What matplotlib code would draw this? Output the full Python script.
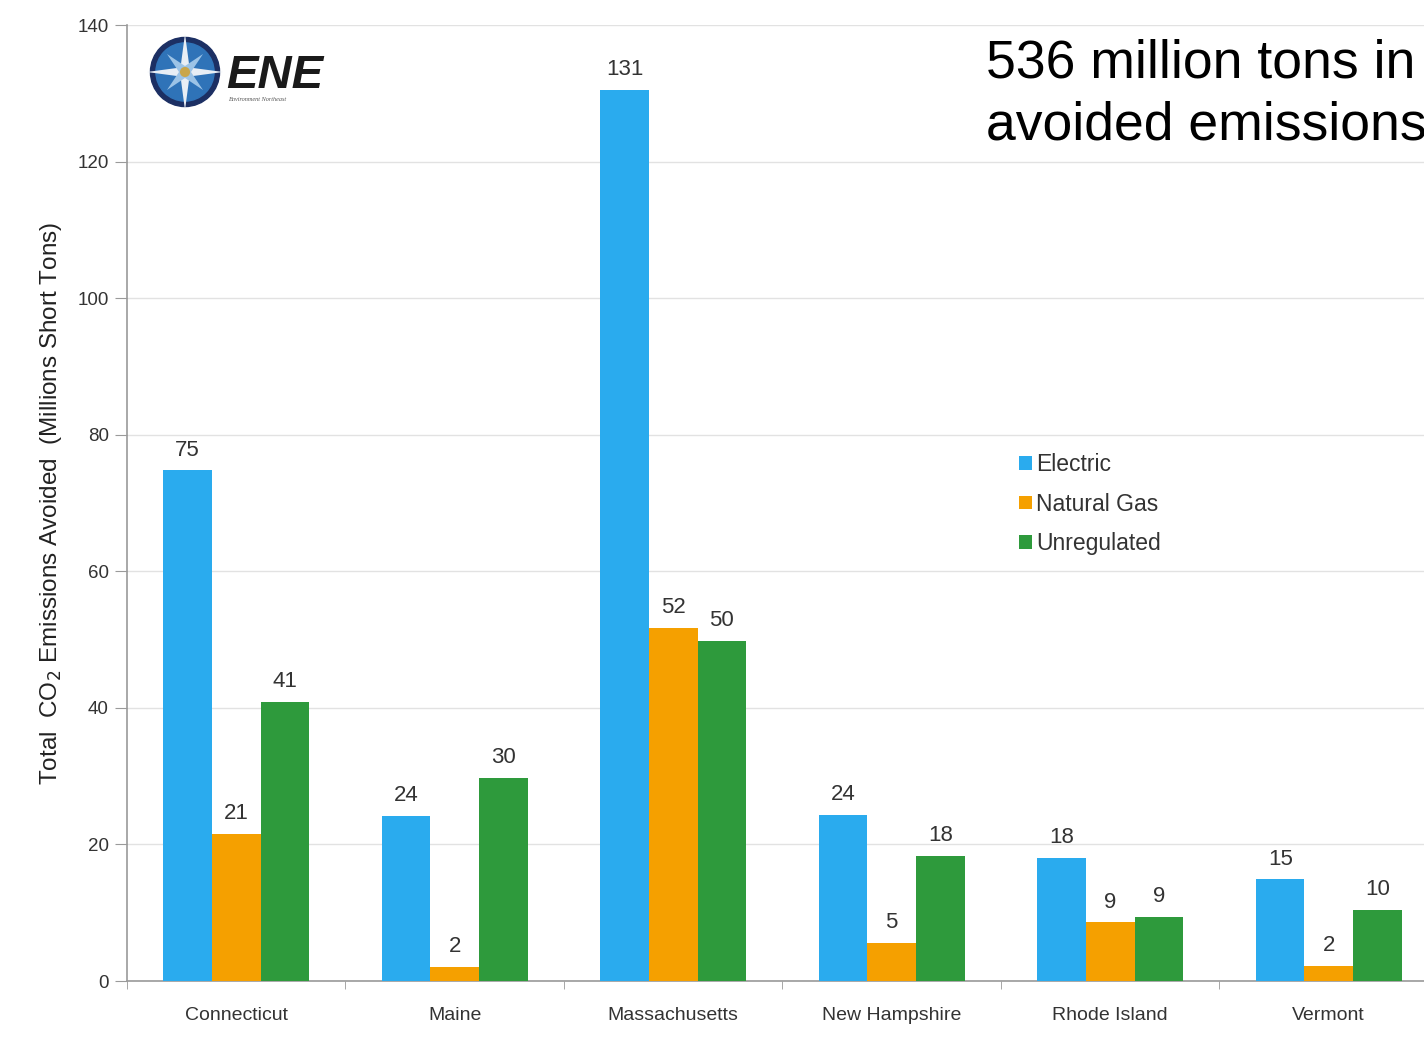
import numpy as np
import matplotlib
matplotlib.use("Agg")
import matplotlib.pyplot as plt
from matplotlib.patches import Circle, Polygon

plt.rcParams["font.family"] = ["Liberation Sans", "DejaVu Sans"]

states = ["Connecticut", "Maine", "Massachusetts", "New Hampshire", "Rhode Island", "Vermont"]
electric = [74.8, 24.2, 130.5, 24.3, 18.0, 14.9]
natural_gas = [21.5, 2.1, 51.7, 5.6, 8.6, 2.2]
unregulated = [40.9, 29.7, 49.8, 18.3, 9.4, 10.4]
electric_labels = ["75", "24", "131", "24", "18", "15"]
gas_labels = ["21", "2", "52", "5", "9", "2"]
unreg_labels = ["41", "30", "50", "18", "9", "10"]
yticks = [0, 20, 40, 60, 80, 100, 120, 140]

W, H = 1424, 1041
fig = plt.figure(figsize=(W / 100, H / 100), dpi=100)
ax = fig.add_axes([127 / W, 1 - 981 / H, 1311 / W, 956 / H])

x = np.arange(len(states))
bw = 0.222
colors = ["#2AABEE", "#F5A000", "#2E9A3C"]
series = [(electric, electric_labels, "Electric"),
          (natural_gas, gas_labels, "Natural Gas"),
          (unregulated, unreg_labels, "Unregulated")]
for i, (vals, labs, name) in enumerate(series):
    bars = ax.bar(x + (i - 1) * bw, vals, bw, color=colors[i], label=name, zorder=3)
    ax.bar_label(bars, labels=labs, padding=7, fontsize=16, color="#333333")

ax.set_xlim(-0.5, 5.5)
ax.set_ylim(0, 140)
ax.set_yticks(yticks)
ax.tick_params(axis="y", labelsize=13.5, colors="#333333", length=9, width=0.8, pad=4)
ax.set_xticks(x)
ax.set_xticklabels(states, fontsize=14, color="#333333")
ax.tick_params(axis="x", length=0, pad=19)
ax.set_xticks(np.arange(-0.5, 6, 1), minor=True)
ax.tick_params(axis="x", which="minor", length=6, color="#999999", direction="out")
ax.grid(axis="y", color="#e2e2e2", linewidth=1, zorder=0)
for s in ["top", "right"]:
    ax.spines[s].set_visible(False)
for s in ["left", "bottom"]:
    ax.spines[s].set_color("#9a9a9a")
    ax.spines[s].set_linewidth(1.2)
ax.tick_params(axis="y", color="#9a9a9a")

ax.set_ylabel("Total  CO$_2$ Emissions Avoided  (Millions Short Tons)", fontsize=17.5,
              color="#222222", labelpad=10)

leg = ax.legend(loc="upper left", bbox_to_anchor=((1010 - 127) / 1311, (981 - 444) / 956),
                frameon=False, fontsize=16.5, handlelength=0.55, handleheight=0.55,
                handletextpad=0.2, labelspacing=0.72, borderaxespad=0)
for t in leg.get_texts():
    t.set_color("#333333")

fig.text(986 / W, 1 - 38 / H, "536 million tons in\navoided emissions", fontsize=38.5,
         color="black", va="top", ha="left", linespacing=1.33)

# logo
lx = fig.add_axes([145 / W, 1 - 112 / H, 80 / W, 80 / H])
lx.set_xlim(-1.1, 1.1)
lx.set_ylim(-1.1, 1.1)
lx.set_aspect("equal")
lx.axis("off")
lx.add_patch(Circle((0, 0), 0.95, color="#1c2f63"))
lx.add_patch(Circle((0, 0), 0.8, color="#2f73b8"))
for ang, r, c in [(0, 1.05, "#e8eef5"), (45, 0.7, "#9cc3e6")]:
    for k in range(4):
        a = np.deg2rad(ang + 90 * k)
        tip = (r * np.cos(a), r * np.sin(a))
        s1 = (0.14 * np.cos(a + np.pi / 2), 0.14 * np.sin(a + np.pi / 2))
        s2 = (0.14 * np.cos(a - np.pi / 2), 0.14 * np.sin(a - np.pi / 2))
        lx.add_patch(Polygon([tip, s1, (0, 0), s2], color=c, lw=0))
lx.add_patch(Circle((0, 0), 0.12, color="#c9a64a"))

fig.text(226 / W, 1 - 88 / H, "ENE", fontsize=34, fontweight="bold", fontstyle="italic",
         color="#1a1a1a", va="baseline", ha="left")
fig.text(228 / W, 1 - 97 / H, "Environment Northeast", fontsize=4.5, fontstyle="italic",
         family=["Liberation Serif", "DejaVu Serif"], color="#555555", va="top", ha="left")

fig.savefig("out.png", dpi=100)
